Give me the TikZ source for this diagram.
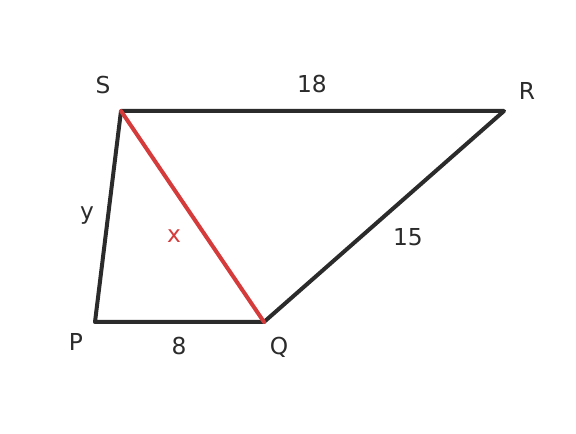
\documentclass[tikz,border=0pt]{standalone}
\usepackage{fontspec}
\setmainfont{DejaVu Sans}
\definecolor{edgegray}{HTML}{2B2B2B}
\definecolor{diagred}{HTML}{D63B3B}
\tikzset{
	side/.style={line width=3pt, color=edgegray, line join=round},
	diag/.style={line width=3pt, color=diagred, line cap=round},
	lbl/.style={font=\fontsize{17.5}{17.5}\selectfont, color=edgegray},
}

\begin{document}
\begin{tikzpicture}[x=0.75pt, y=-0.75pt]
			%%%%% START %%%%%
			\useasboundingbox (0, 0) rectangle (576, 434);
			
			\coordinate (S) at (121, 111);
			\coordinate (R) at (504, 111);
			\coordinate (Q) at (264, 322);
			\coordinate (P) at (95, 322);
			
			\draw[side] (P) -- (S) -- (R) -- (Q) -- cycle;
			\draw[diag] (S) -- (Q);
			
			\node[lbl] (labS) at (103, 85) {S};
			\node[lbl] (labR) at (527, 91) {R};
			\node[lbl] (labP) at (76, 342) {P};
			\node[lbl] (labQ) at (279, 347) {Q};
			
			\node[lbl] (len18) at (312, 84) {18};
			\node[lbl] (len15) at (408, 237) {15};
			\node[lbl] (len8) at (179, 346) {8};
			\node[lbl] (leny) at (87, 216) {y};
			\node[lbl, color=diagred] (lenx) at (174, 236) {x};
			%%%%% END %%%%%
\end{tikzpicture}
\end{document}
